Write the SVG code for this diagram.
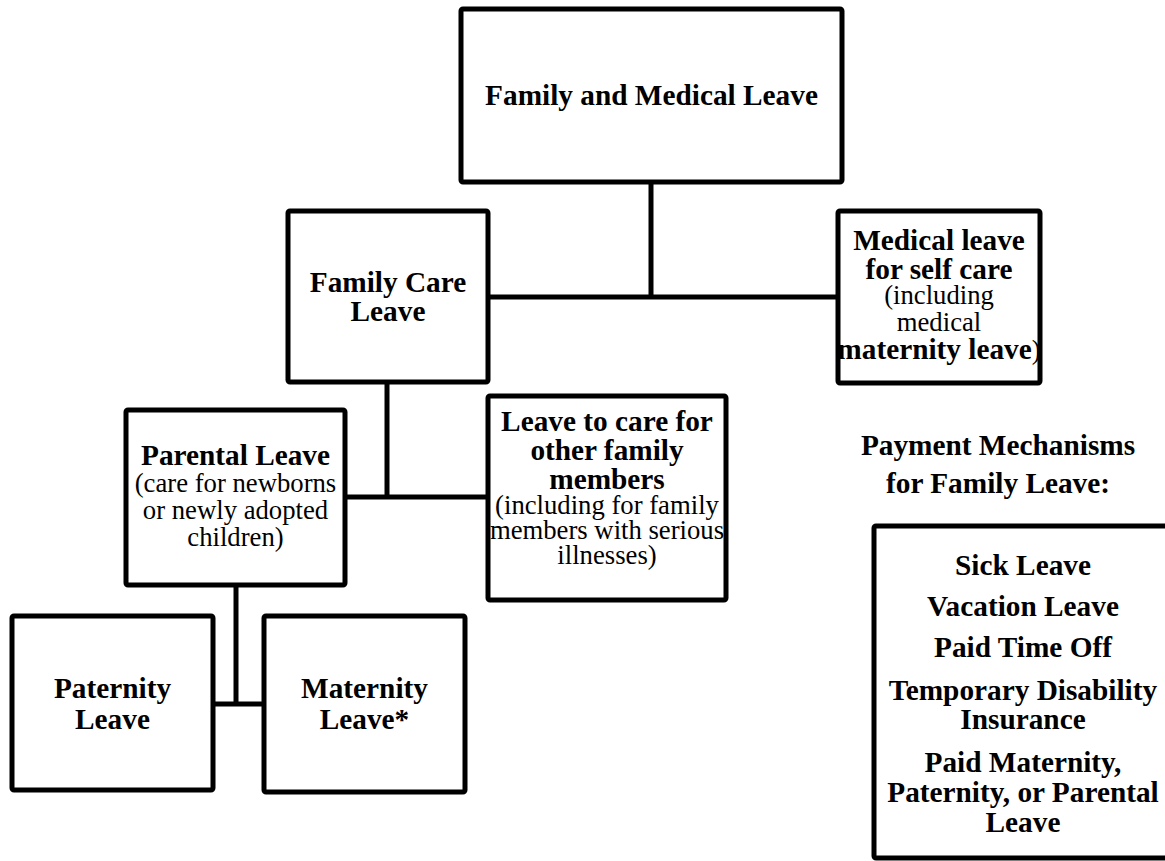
<svg xmlns="http://www.w3.org/2000/svg" width="1165" height="861" viewBox="0 0 1165 861">
<style>
.box{fill:#fff;stroke:#000;stroke-width:5;stroke-linejoin:round}
.con{stroke:#000;stroke-width:5;fill:none}
text{font-family:"Liberation Serif","Times New Roman",serif;fill:#000;text-anchor:middle}
.b{font-weight:bold;font-size:29.3px}
.r{font-size:26.7px}
</style>
<rect width="1165" height="861" fill="#fff"/>
<g id="connectors">
<line class="con" x1="651" y1="182" x2="651" y2="297"/>
<line class="con" x1="488" y1="297" x2="838" y2="297"/>
<line class="con" x1="387" y1="382" x2="387" y2="497"/>
<line class="con" x1="345" y1="497" x2="488" y2="497"/>
<line class="con" x1="236" y1="585" x2="236" y2="704"/>
<line class="con" x1="213" y1="704" x2="264" y2="704"/>
</g>
<g id="family-medical-leave">
<rect class="box" x="461" y="9" width="381" height="173" rx="2"/>
<text class="b" x="651.5" y="105">Family and Medical Leave</text>
</g>
<g id="family-care-leave">
<rect class="box" x="288" y="211" width="200" height="171" rx="2"/>
<text class="b" x="388" y="292">Family Care</text>
<text class="b" x="388" y="321">Leave</text>
</g>
<g id="medical-leave">
<rect class="box" x="838" y="211" width="202" height="172" rx="2"/>
<text class="b" x="939" y="250">Medical leave</text>
<text class="b" x="939" y="279">for self care</text>
<text class="r" x="939" y="304">(including</text>
<text class="r" x="939" y="331">medical</text>
<text x="939" y="359"><tspan class="b">maternity leave</tspan><tspan class="r">)</tspan></text>
</g>
<g id="parental-leave">
<rect class="box" x="126" y="410" width="219" height="175" rx="2"/>
<text class="b" x="235.5" y="465">Parental Leave</text>
<text class="r" x="235.5" y="492">(care for newborns</text>
<text class="r" x="235.5" y="519">or newly adopted</text>
<text class="r" x="235.5" y="546">children)</text>
</g>
<g id="other-family-leave">
<rect class="box" x="488" y="396" width="238" height="204" rx="2"/>
<text class="b" x="607" y="431">Leave to care for</text>
<text class="b" x="607" y="460">other family</text>
<text class="b" x="607" y="489">members</text>
<text class="r" x="607" y="514">(including for family</text>
<text class="r" x="607" y="539">members with serious</text>
<text class="r" x="607" y="564">illnesses)</text>
</g>
<g id="paternity-leave">
<rect class="box" x="12" y="616" width="201" height="174" rx="2"/>
<text class="b" x="112.5" y="698">Paternity</text>
<text class="b" x="112.5" y="729">Leave</text>
</g>
<g id="maternity-leave">
<rect class="box" x="264" y="616" width="201" height="176" rx="2"/>
<text class="b" x="364.5" y="698">Maternity</text>
<text class="b" x="364.5" y="729">Leave*</text>
</g>
<g id="payment-heading">
<text class="b" x="998" y="455">Payment Mechanisms</text>
<text class="b" x="998" y="493">for Family Leave:</text>
</g>
<g id="payment-mechanisms">
<rect class="box" x="874" y="526" width="300" height="332" rx="2"/>
<text class="b" x="1023" y="575">Sick Leave</text>
<text class="b" x="1023" y="616">Vacation Leave</text>
<text class="b" x="1023" y="657">Paid Time Off</text>
<text class="b" x="1023" y="700">Temporary Disability</text>
<text class="b" x="1023" y="729">Insurance</text>
<text class="b" x="1023" y="772">Paid Maternity,</text>
<text class="b" x="1023" y="802">Paternity, or Parental</text>
<text class="b" x="1023" y="832">Leave</text>
</g>
</svg>
